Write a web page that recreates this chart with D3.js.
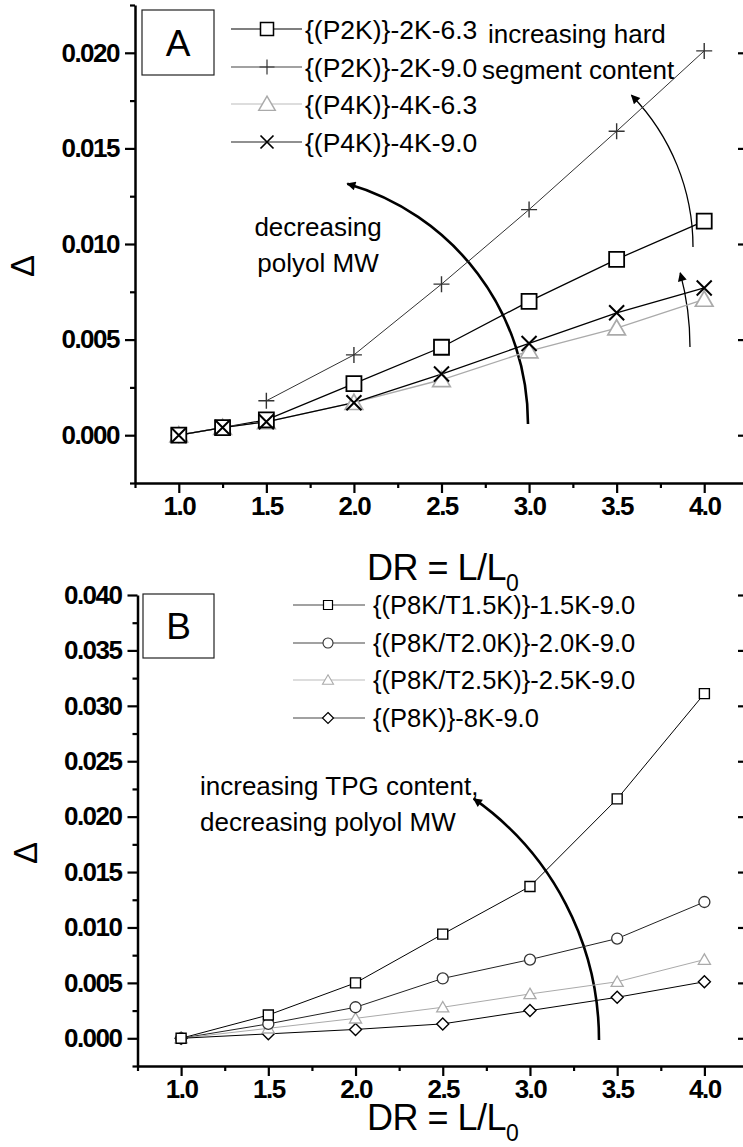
<!DOCTYPE html>
<html>
<head>
<meta charset="utf-8">
<script src="https://cdn.jsdelivr.net/npm/d3@7"></script>
<style>
    body { margin: 0; background: #fff; }
    svg { font-family: "Liberation Sans", Arial, sans-serif; }
    .axis .domain { stroke: #000; stroke-width: 2.5; }
    .axis .tick line { stroke: #000; stroke-width: 2.2; }
    .axis text { font-size: 26px; font-weight: bold; letter-spacing: -1.5px; fill: #000; font-family: "Liberation Sans", Arial, sans-serif; }
</style>
</head>
<body>
<script>
// ---- data, panel A ----
var drA = [1.0, 1.25, 1.5, 2.0, 2.5, 3.0, 3.5, 4.0];
var p2k63 = [0, 0.0004, 0.0008, 0.0027, 0.0046, 0.0070, 0.0092, 0.0112];
var p2k90 = [0, null, 0.0018, 0.0042, 0.0079, 0.0118, 0.0159, 0.0201];
var p4k63 = [0, 0.0004, 0.0007, 0.0017, 0.0029, 0.0044, 0.0056, 0.0071];
var p4k90 = [0, 0.0004, 0.0007, 0.0017, 0.0032, 0.0048, 0.0064, 0.0077];
var namesA = ["{(P2K)}-2K-6.3", "{(P2K)}-2K-9.0", "{(P4K)}-4K-6.3", "{(P4K)}-4K-9.0"];

// ---- data, panel B ----
var drB = [1.0, 1.5, 2.0, 2.5, 3.0, 3.5, 4.0];
var t15 = [0, 0.0021, 0.0050, 0.0094, 0.0137, 0.0216, 0.0311];
var t20 = [0, 0.0013, 0.0028, 0.0054, 0.0071, 0.0090, 0.0123];
var t25 = [0, 0.0009, 0.0018, 0.0028, 0.0040, 0.0051, 0.0071];
var p8k = [0, 0.0004, 0.0008, 0.0013, 0.0025, 0.0037, 0.0051];
var namesB = ["{(P8K/T1.5K)}-1.5K-9.0", "{(P8K/T2.0K)}-2.0K-9.0", "{(P8K/T2.5K)}-2.5K-9.0", "{(P8K)}-8K-9.0"];

// ticks
var xMajor = [1.0, 1.5, 2.0, 2.5, 3.0, 3.5, 4.0];
var xMinor = [0.75, 1.25, 1.75, 2.25, 2.75, 3.25, 3.75, 4.25];
var yMajorA = [0, 0.005, 0.010, 0.015, 0.020];
var yMinorA = [-0.0025, 0.0025, 0.0075, 0.0125, 0.0175, 0.0225];
var yMajorB = [0, 0.005, 0.010, 0.015, 0.020, 0.025, 0.030, 0.035, 0.040];
var yMinorB = [-0.0025, 0.0025, 0.0075, 0.0125, 0.0175, 0.0225, 0.0275, 0.0325, 0.0375];

var svg = d3.select("body").append("svg")
        .attr("width", 743)
        .attr("height", 1147);

var defs = svg.append("defs");
defs.append("marker").attr("id", "headBig")
        .attr("viewBox", "0 0 10 10").attr("refX", 9).attr("refY", 5)
        .attr("markerUnits", "userSpaceOnUse")
        .attr("markerWidth", 14).attr("markerHeight", 9)
        .attr("orient", "auto")
        .append("path").attr("d", "M0,0L10,5L0,10Z").attr("fill", "#000");
defs.append("marker").attr("id", "headSmall")
        .attr("viewBox", "0 0 10 10").attr("refX", 9).attr("refY", 5)
        .attr("markerUnits", "userSpaceOnUse")
        .attr("markerWidth", 13).attr("markerHeight", 9)
        .attr("orient", "auto")
        .append("path").attr("d", "M0,0L10,5L0,10Z").attr("fill", "#000");

// marker shapes
function sym(type, s) {
    if (type === "square") return "M" + (-s) + "," + (-s) + "H" + s + "V" + s + "H" + (-s) + "Z";
    if (type === "plus") return "M" + (-s) + ",0H" + s + "M0," + (-s) + "V" + s;
    if (type === "x") return "M" + (-s) + "," + (-s) + "L" + s + "," + s + "M" + (-s) + "," + s + "L" + s + "," + (-s);
    if (type === "tri") return "M0," + (-s * 1.05) + "L" + (s * 1.1) + "," + (s * 0.85) + "L" + (-s * 1.1) + "," + (s * 0.85) + "Z";
    if (type === "diamond") return "M0," + (-s) + "L" + s + ",0L0," + s + "L" + (-s) + ",0Z";
    return d3.symbol(d3.symbolCircle, Math.PI * s * s)();
}

// axes on left, bottom, right (right line sits just outside the window)
function drawAxes(x, y, yMajor, yMinor) {
    var xr = x.range(), yr = y.range();
    svg.append("g").attr("class", "axis").attr("transform", "translate(0," + yr[0] + ")")
            .call(d3.axisBottom(x).tickValues(xMajor).tickSize(10).tickSizeOuter(0)
                    .tickPadding(4).tickFormat(d3.format(".1f")));
    svg.append("g").attr("class", "axis").attr("transform", "translate(0," + yr[0] + ")")
            .call(d3.axisBottom(x).tickValues(xMinor).tickSize(5).tickSizeOuter(0).tickFormat(""))
            .select(".domain").remove();
    svg.append("g").attr("class", "axis").attr("transform", "translate(" + xr[0] + ",0)")
            .call(d3.axisLeft(y).tickValues(yMajor).tickSize(10).tickSizeOuter(0)
                    .tickPadding(6).tickFormat(d3.format(".3f")));
    svg.append("g").attr("class", "axis").attr("transform", "translate(" + xr[0] + ",0)")
            .call(d3.axisLeft(y).tickValues(yMinor).tickSize(5).tickSizeOuter(0).tickFormat(""))
            .select(".domain").remove();
    // mirrored ticks on the right
    svg.append("g").attr("class", "axis").attr("transform", "translate(" + xr[1] + ",0)")
            .call(d3.axisRight(y).tickValues(yMajor).tickSize(-10).tickSizeOuter(0).tickFormat(""));
    svg.append("g").attr("class", "axis").attr("transform", "translate(" + xr[1] + ",0)")
            .call(d3.axisRight(y).tickValues(yMinor).tickSize(-5).tickSizeOuter(0).tickFormat(""))
            .select(".domain").remove();
}

function drawSeries(x, y, xs, series, order) {
    series.forEach(function (s) {
        var pts = xs.map(function (d, i) { return [d, s.vals[i]]; });
        svg.append("path")
                .datum(pts)
                .attr("fill", "none")
                .attr("stroke", s.color)
                .attr("stroke-width", s.lw)
                .attr("d", d3.line()
                        .defined(function (d) { return d[1] !== null; })
                        .x(function (d) { return x(d[0]); })
                        .y(function (d) { return y(d[1]); }));
    });
    order.forEach(function (k) {
        var s = series[k];
        var pts = xs.map(function (d, i) { return [d, s.vals[i]]; })
                .filter(function (d) { return d[1] !== null; });
        svg.append("g").selectAll("path")
                .data(pts)
                .enter()
                .append("path")
                .attr("transform", function (d) { return "translate(" + x(d[0]) + "," + y(d[1]) + ")"; })
                .attr("d", sym(s.sym, s.size))
                .attr("fill", s.fill)
                .attr("stroke", s.mcolor)
                .attr("stroke-width", s.sw);
    });
}

function drawLegend(series, names, rows, x0, x1, xm, xt, fs, lsize) {
    series.forEach(function (s, i) {
        var g = svg.append("g").attr("transform", "translate(0," + rows[i] + ")");
        g.append("line").attr("x1", x0).attr("x2", x1)
                .attr("stroke", s.lcolor).attr("stroke-width", 1.2);
        g.append("path").attr("transform", "translate(" + xm + ",0)")
                .attr("d", sym(s.sym, lsize[i]))
                .attr("fill", s.fill).attr("stroke", s.mcolor).attr("stroke-width", s.sw * 0.85);
        g.append("text").attr("x", xt).attr("dy", "0.36em")
                .attr("font-size", fs + "px")
                .text(names[i]);
    });
}

function arcArrow(cx, cy, r, a0, a1, w, head) {
    var p = d3.path();
    p.arc(cx, cy, r, a0, a1, a1 < a0);
    svg.append("path").attr("d", p.toString())
            .attr("fill", "none").attr("stroke", "#000").attr("stroke-width", w)
            .attr("marker-end", "url(#" + head + ")");
}

function axisTitle(x0, yb) {
    var t = svg.append("text").attr("x", x0).attr("y", yb).attr("font-size", "36px").attr("letter-spacing", "-0.5px");
    t.append("tspan").text("DR = L/L");
    t.append("tspan").attr("font-size", "23px").attr("dy", 11).text("0");
}

function deltaLabel(cx, cy) {
    svg.append("text").attr("transform", "translate(" + cx + "," + cy + ") rotate(-90)")
            .attr("text-anchor", "middle").attr("dy", "0.35em")
            .attr("font-size", "33px").text("Δ");
}

function panelBox(x0, y0, w, h, label) {
    svg.append("rect").attr("x", x0).attr("y", y0).attr("width", w).attr("height", h)
            .attr("fill", "#fff").attr("stroke", "#222").attr("stroke-width", 1.2);
    svg.append("text").attr("x", x0 + w / 2).attr("y", y0 + h / 2)
            .attr("text-anchor", "middle").attr("dy", "0.36em")
            .attr("font-size", "37px").text(label);
}

// ================= panel A =================
var xA = d3.scaleLinear().domain([0.75, 4.25]).range([135, 748]);
var yA = d3.scaleLinear().domain([-0.0025, 0.0225]).range([483, 5]);

var seriesA = [
    {vals: p2k63, sym: "square", color: "#000", lcolor: "#000", mcolor: "#000", fill: "#fff", lw: 1.3, size: 7.5, sw: 1.8},
    {vals: p2k90, sym: "plus", color: "#333", lcolor: "#444", mcolor: "#333", fill: "none", lw: 1, size: 8, sw: 1.4},
    {vals: p4k63, sym: "tri", color: "#aaa", lcolor: "#bbb", mcolor: "#aaa", fill: "#fff", lw: 1.3, size: 8, sw: 1.7},
    {vals: p4k90, sym: "x", color: "#000", lcolor: "#222", mcolor: "#000", fill: "none", lw: 1.3, size: 7.5, sw: 2}
];

// annotation arcs drawn under the data
arcArrow(278, 424, 250, 0, -1.29, 2.6, "headBig");
arcArrow(475, 247, 218, 0, -0.77, 1.3, "headSmall");
arcArrow(404, 347, 286, 0, -0.262, 1.3, "headSmall");

drawAxes(xA, yA, yMajorA, yMinorA);
drawSeries(xA, yA, drA, seriesA, [1, 2, 0, 3]);
panelBox(142, 10, 72, 65, "A");
drawLegend(seriesA, namesA, [29, 67, 104, 142], 231, 302, 267, 305, 26.5, [6.5, 7.5, 7.5, 6.5]);

svg.append("text").attr("x", 488).attr("y", 43).attr("font-size", "26px").text("increasing hard");
svg.append("text").attr("x", 482).attr("y", 79).attr("font-size", "26px").text("segment content");
svg.append("text").attr("x", 318).attr("y", 236).attr("font-size", "26px").attr("text-anchor", "middle").text("decreasing");
svg.append("text").attr("x", 318).attr("y", 272).attr("font-size", "26px").attr("text-anchor", "middle").text("polyol MW");

axisTitle(367, 580);
deltaLabel(22, 266);

// ================= panel B =================
var xB = d3.scaleLinear().domain([0.75, 4.25]).range([137.5, 748]);
var yB = d3.scaleLinear().domain([-0.0025, 0.040]).range([1066, 595]);

var seriesB = [
    {vals: t15, sym: "square", color: "#000", lcolor: "#444", mcolor: "#000", fill: "#fff", lw: 1, size: 5, sw: 1.4},
    {vals: t20, sym: "circle", color: "#222", lcolor: "#444", mcolor: "#333", fill: "#fff", lw: 1, size: 5.5, sw: 1.3},
    {vals: t25, sym: "tri", color: "#aaa", lcolor: "#bbb", mcolor: "#aaa", fill: "#fff", lw: 1, size: 5.5, sw: 1.3},
    {vals: p8k, sym: "diamond", color: "#000", lcolor: "#444", mcolor: "#000", fill: "#fff", lw: 1, size: 6, sw: 1.4}
];

arcArrow(304, 1040, 295, 0, -0.958, 2.6, "headBig");

drawAxes(xB, yB, yMajorB, yMinorB);
drawSeries(xB, yB, drB, seriesB, [3, 2, 1, 0]);
panelBox(143, 594, 71, 64, "B");
drawLegend(seriesB, namesB, [605, 643, 680, 718], 293, 365, 328, 373, 25.5, [4.5, 5, 5, 5.5]);

svg.append("text").attr("x", 200).attr("y", 795).attr("font-size", "26px").text("increasing TPG content,");
svg.append("text").attr("x", 200).attr("y", 831).attr("font-size", "26px").text("decreasing polyol MW");

axisTitle(367, 1130);
deltaLabel(25, 853);
</script>
</body>
</html>
